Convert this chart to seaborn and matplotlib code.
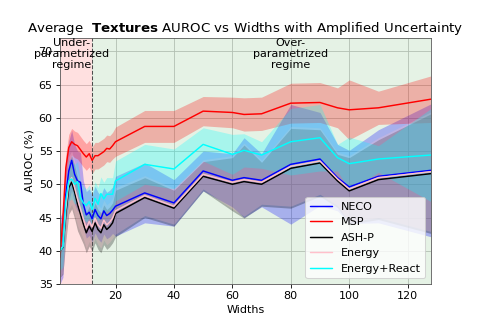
import numpy as np
import pandas as pd
import matplotlib
matplotlib.use("Agg")
import matplotlib.pyplot as plt
import seaborn as sns

# widths of the models
widths = list(range(1, 21)) + [30, 40, 50, 60, 64, 70, 80, 90, 96, 100, 110, 128]

# mean AUROC per method
neco = [40.0, 41.0, 48.5, 52.0, 53.6, 51.5, 50.5, 50.3, 47.0, 45.4, 45.8, 44.8, 46.2, 45.3, 44.8, 46.0,
        45.3, 45.6, 46.1, 46.7, 48.7, 47.2, 52.0, 50.6, 51.0, 50.6, 53.0, 53.8, 51.0, 49.6, 51.2, 52.1]
msp = [39.0, 45.0, 52.5, 55.5, 56.4, 56.0, 55.8, 55.2, 54.6, 54.1, 54.6, 53.6, 54.3, 54.3, 54.6, 54.9,
       55.4, 55.3, 55.8, 56.4, 58.7, 58.7, 61.0, 60.8, 60.5, 60.6, 62.2, 62.3, 61.5, 61.2, 61.5, 62.8]
ash = [40.0, 40.5, 45.5, 49.5, 50.3, 48.8, 47.0, 45.5, 44.0, 42.7, 43.7, 42.9, 44.2, 43.2, 42.7, 43.9,
       43.2, 43.6, 44.2, 45.6, 48.0, 46.4, 51.2, 50.0, 50.4, 50.0, 52.4, 53.2, 50.5, 49.0, 50.7, 51.6]
energy = [40.0, 40.7, 46.3, 50.2, 51.0, 49.5, 47.8, 46.3, 44.8, 43.4, 44.4, 43.6, 44.9, 43.9, 43.4, 44.6,
          43.9, 44.3, 44.9, 46.0, 48.3, 46.7, 51.5, 50.3, 50.7, 50.3, 52.7, 53.5, 50.8, 49.3, 51.0, 51.9]
react = [40.0, 40.6, 47.5, 50.5, 50.8, 50.0, 50.4, 48.0, 47.2, 46.8, 47.4, 46.2, 47.9, 47.0, 48.6, 47.8,
         48.5, 48.5, 48.5, 50.5, 53.0, 52.3, 56.0, 54.5, 55.1, 54.4, 56.4, 57.0, 54.0, 53.1, 53.8, 54.4]

# amplified std per method
neco_std = [5, 5, 4.5, 4.5, 4.5, 4.5, 4.5, 4.5, 3.5, 3.5, 3.5, 3.5, 3.5, 3.5, 3.5, 3.5,
            3.5, 3.5, 3.5, 4.5, 4.5, 3.5, 3.0, 4.0, 6.0, 4.0, 9.0, 7.0, 5.0, 5.5, 7.0, 10.0]
msp_std = [1.5, 1.5, 2, 2, 2, 2, 2, 2, 2, 2, 2, 2, 2, 2, 2, 2,
           2, 2, 2, 2.2, 2.4, 2.4, 2.2, 2.3, 2.5, 2.5, 3.0, 3.0, 3.0, 4.5, 2.5, 3.5]
ash_std = [4, 4, 4, 4, 4, 4, 4, 3.5, 3, 3, 3, 3, 3, 3, 3, 3,
           3, 3, 3, 3.5, 3.0, 2.7, 2.2, 4.0, 5.5, 3.3, 6.0, 5.0, 4.0, 5.0, 6.0, 9.0]
energy_std = [4, 4, 4, 4, 4, 4, 4, 3.5, 3, 3, 3, 3, 3, 3, 3, 3,
              3, 3, 3, 3.5, 3.0, 2.7, 2.2, 4.0, 5.5, 3.3, 6.0, 5.0, 4.0, 5.0, 6.0, 9.0]
react_std = [3, 3, 3, 3, 3, 3, 3, 2.5, 2.5, 2.5, 2.5, 2.5, 2.5, 2.5, 2.5, 2.5,
             2.5, 2.5, 2.5, 3.0, 3.0, 3.0, 2.5, 3.0, 2.5, 2.0, 5.0, 5.0, 2.0, 4.0, 2.0, 7.0]

methods = ["NECO", "MSP", "ASH-P", "Energy", "Energy+React"]
means = [neco, msp, ash, energy, react]
stds = [neco_std, msp_std, ash_std, energy_std, react_std]
colors = ["blue", "red", "black", "pink", "cyan"]
palette = dict(zip(methods, colors))

df = pd.concat([pd.DataFrame({"Widths": widths, "AUROC": m, "std": s, "Method": name})
                for name, m, s in zip(methods, means, stds)], ignore_index=True)

sns.set_style("whitegrid", {"axes.edgecolor": "0.35", "grid.color": "0.78",
                            "xtick.bottom": True, "ytick.left": True,
                            "text.color": "black", "axes.labelcolor": "black",
                            "xtick.color": "black", "ytick.color": "black"})
plt.rcParams["font.family"] = ["DejaVu Sans"]
plt.rcParams["font.size"] = 10.7

fig = plt.figure(figsize=(478 / 75, 319 / 75), dpi=75)
ax = fig.add_axes([60 / 478, 35 / 319, 371 / 478, 246 / 319])

# regimes
ax.axvspan(1, 12, color="red", alpha=0.12, lw=0)
ax.axvspan(12, 128, color="green", alpha=0.1, lw=0)
ax.axvline(12, color="0.3", ls="--", lw=1)

for name in methods:
    d = df[df["Method"] == name]
    ax.fill_between(d["Widths"], d["AUROC"] - d["std"], d["AUROC"] + d["std"],
                    color=palette[name], alpha=0.27, lw=0)

sns.lineplot(data=df, x="Widths", y="AUROC", hue="Method", palette=palette,
             hue_order=methods, errorbar=None, lw=1.4, ax=ax)

ax.text(5, 72.0, "Under-\nparametrized\nregime", ha="center", va="top", fontsize=10.7,
        linespacing=1.15)
ax.text(80, 72.0, "Over-\nparametrized\nregime", ha="center", va="top", fontsize=10.7,
        linespacing=1.15)

ax.set_xlim(1, 128)
ax.set_ylim(35, 72)
ax.set_xticks([20, 40, 60, 80, 100, 120])
ax.set_yticks([35, 40, 45, 50, 55, 60, 65, 70])
ax.tick_params(labelsize=10.7)
ax.set_xlabel("Widths", fontsize=10.7)
ax.set_ylabel("AUROC (%)", fontsize=10.7)
ax.set_title(r"Average  $\bf{Textures}$ AUROC vs Widths with Amplified Uncertainty", fontsize=12.8)
ax.legend(loc="lower right", fontsize=10.7, title=None)

fig.savefig("out.png", dpi=75)
